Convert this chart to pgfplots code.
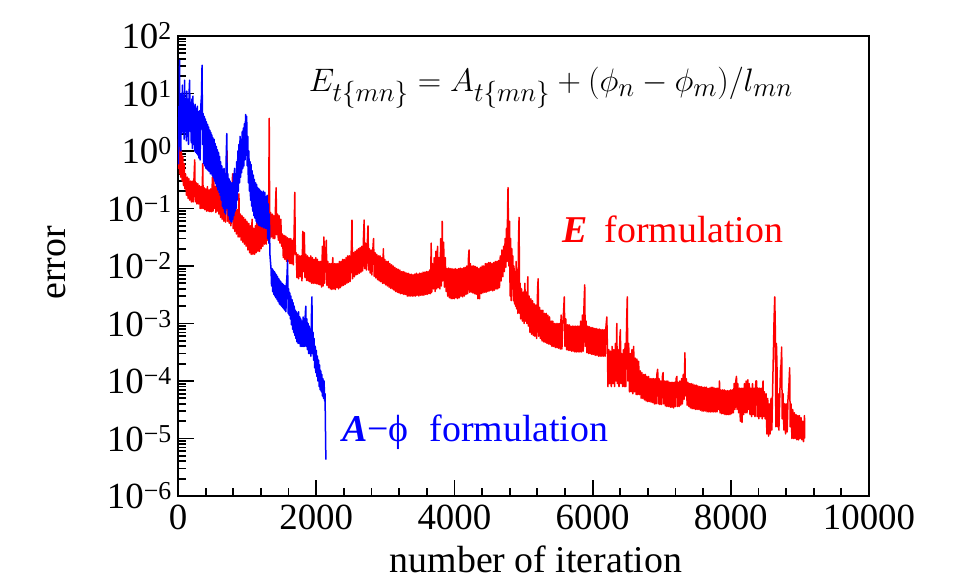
\documentclass[border=0pt]{standalone}
\usepackage{pgfplots}
\pgfplotsset{compat=1.18}
\usepackage{fontspec}
\setmainfont{Liberation Serif}
\begin{document}
\begin{tikzpicture}[x=1bp,y=1bp]
\path[use as bounding box] (-178,-90) rectangle (786,496);
\begin{axis}[at={(0,0)}, anchor=south west, scale only axis,
  width=691bp, height=460bp,
  ymode=log, xmin=0, xmax=10000, ymin=1e-6, ymax=1e2,
  axis line style={line width=2.4bp},
  tick align=inside, xtick pos=lower, ytick pos=left,
  tick style={line width=1.8bp, black},
  major tick length=16bp, minor tick length=8bp,
  xtick={0,2000,4000,6000,8000,10000},
  xticklabels={0,2000,4000,6000,8000,10000},
  minor x tick num=4, scaled x ticks=false,
  ytick={1e-6,1e-5,1e-4,1e-3,1e-2,1e-1,1,1e1,1e2},
  yticklabels={10\textsuperscript{−6},10\textsuperscript{−5},10\textsuperscript{−4},10\textsuperscript{−3},10\textsuperscript{−2},10\textsuperscript{−1},10\textsuperscript{0},10\textsuperscript{1},10\textsuperscript{2}},
  xticklabel style={font=\fontsize{37}{40}\selectfont, inner sep=0pt, yshift=-9bp},
  yticklabel style={font=\fontsize{37}{40}\selectfont, inner sep=0pt, xshift=-6bp},
  xlabel={number of iteration}, ylabel={error},
  xlabel style={font=\fontsize{38}{40}\selectfont, at={(axis description cs:0.518,0)}, anchor=base, yshift=-76bp},
  ylabel style={font=\fontsize{38}{40}\selectfont, at={(axis description cs:-0.1635,0.507)}, anchor=base},
  clip=true]
\addplot[red, line width=1.5bp, line join=round] coordinates {
(0,1.6) (8,0.5) (16,2.0) (24,0.4) (32,1.3) (40,0.35) (50,1.0) (60,0.3) (70,0.8) (80,0.25) (90,0.6) (100,0.22)
(110,0.4) (122,0.17) (134,0.35) (146,0.15) (158,0.33) (170,0.14) (182,0.3) (194,0.13) (206,0.3) (218,0.13) (230,0.3) (242,0.7) (250,0.13) (262,0.28) (274,0.12) (286,0.27) (298,0.12)
(310,0.25) (322,0.1) (334,0.24) (346,0.1) (358,0.6) (366,0.1) (378,0.23) (390,0.095) (402,0.22) (414,0.09) (426,0.24) (438,0.09) (450,0.21) (462,0.088) (474,0.22) (486,0.088) (498,0.35) (508,0.09) (516,1.0) (524,0.1) (536,0.24) (548,0.085) (560,0.8) (568,0.09) (580,0.2) (592,0.08)
(604,0.18) (616,0.07) (628,0.17) (640,0.065) (652,0.16) (664,0.06) (676,0.15) (688,0.058) (700,0.35) (710,1.0) (718,0.06) (730,0.15) (742,0.055) (754,0.14) (766,0.05) (778,0.13) (790,0.4) (798,0.045)
(810,0.11) (822,0.04) (834,0.1) (846,0.036) (858,0.095) (870,0.032) (882,0.18) (890,0.032) (902,0.08) (914,0.028) (926,0.075) (938,0.026) (950,0.07) (962,0.024) (974,0.065) (986,0.022) (998,0.06)
(1012,0.019) (1024,0.055) (1036,0.017) (1048,0.05) (1060,0.016) (1072,0.065) (1084,0.016) (1096,0.045) (1108,0.016) (1120,0.05) (1132,0.017) (1144,0.11) (1156,0.018) (1168,0.055) (1180,0.018) (1192,0.11) (1204,0.02) (1216,0.06) (1228,0.022) (1240,0.07) (1252,0.024) (1264,0.065) (1276,0.024) (1288,0.075) (1300,0.028) (1312,0.065) (1320,3.7) (1328,0.03)
(1340,0.085) (1352,0.032) (1364,0.08) (1376,0.03) (1388,0.075) (1400,0.03) (1412,0.12) (1420,0.23) (1428,0.035) (1440,0.08) (1452,0.028) (1464,0.075) (1476,0.025) (1488,0.065) (1500,0.022)
(1512,0.036) (1524,0.014) (1536,0.034) (1548,0.013) (1560,0.033) (1572,0.012) (1584,0.031) (1596,0.012) (1608,0.03) (1620,0.011) (1632,0.03) (1644,0.011) (1656,0.028) (1668,0.0105) (1680,0.035) (1690,0.19) (1698,0.016)
(1710,0.017) (1722,0.0063) (1734,0.016) (1746,0.006) (1758,0.015) (1770,0.0065) (1782,0.015) (1794,0.0055) (1806,0.04) (1816,0.008) (1828,0.038) (1838,0.0063) (1850,0.016) (1862,0.0056) (1874,0.015) (1886,0.0055) (1898,0.014) (1910,0.0053) (1922,0.015) (1934,0.005) (1946,0.014) (1958,0.005) (1970,0.013) (1982,0.005) (1994,0.014) (2006,0.0049) (2018,0.013) (2030,0.0048) (2042,0.012)
(2054,0.0047) (2066,0.012) (2078,0.0043) (2090,0.022) (2100,0.0045) (2112,0.032) (2122,0.005) (2134,0.013) (2146,0.028) (2156,0.0046) (2168,0.012) (2180,0.0042) (2192,0.011) (2204,0.004) (2216,0.011) (2228,0.0039) (2240,0.014) (2252,0.004) (2264,0.011) (2276,0.0039) (2288,0.011) (2300,0.0042) (2312,0.011) (2324,0.004) (2336,0.012) (2348,0.0042) (2360,0.012) (2372,0.0045) (2384,0.013) (2396,0.0046) (2408,0.013) (2420,0.0048) (2432,0.014) (2444,0.005) (2456,0.015) (2468,0.0052) (2480,0.015) (2492,0.0054) (2506,0.016) (2518,0.063) (2526,0.006)
(2540,0.017) (2552,0.0065) (2564,0.018) (2576,0.007) (2588,0.019) (2600,0.0072) (2612,0.02) (2624,0.0075) (2636,0.021) (2648,0.0078) (2660,0.022) (2672,0.0082) (2684,0.03) (2694,0.063) (2702,0.009) (2714,0.025) (2726,0.0085) (2738,0.022) (2750,0.05) (2758,0.0085) (2770,0.02) (2782,0.0075)
(2794,0.019) (2806,0.007) (2818,0.018) (2830,0.03) (2840,0.0066) (2852,0.017) (2864,0.0062) (2876,0.016) (2888,0.0058) (2900,0.015) (2912,0.0055) (2924,0.015) (2936,0.0053) (2948,0.014) (2960,0.005) (2972,0.02) (2982,0.005) (2994,0.013) (3006,0.0047) (3018,0.012) (3030,0.0045) (3042,0.012) (3054,0.0043) (3066,0.011) (3078,0.0041) (3090,0.0105) (3102,0.004) (3114,0.01) (3126,0.0038) (3138,0.0095) (3150,0.0036) (3162,0.009) (3174,0.0035) (3186,0.0088) (3198,0.0034) (3210,0.0085) (3222,0.0033) (3234,0.008) (3246,0.0033) (3258,0.008) (3270,0.0032) (3282,0.0078) (3294,0.0032) (3306,0.0075) (3318,0.003) (3330,0.0075) (3342,0.003) (3354,0.0072) (3366,0.003) (3378,0.0072) (3390,0.003)
(3402,0.007) (3414,0.003) (3426,0.0072) (3438,0.003) (3450,0.0075) (3462,0.0031) (3474,0.0072) (3486,0.003) (3498,0.0075) (3510,0.0031) (3522,0.0075) (3534,0.0031) (3546,0.0078) (3558,0.0031) (3570,0.0078) (3582,0.0032) (3594,0.008) (3606,0.0032) (3618,0.008) (3630,0.0033) (3642,0.0085) (3654,0.0033) (3664,0.025) (3672,0.0035) (3684,0.011) (3696,0.004)
(3708,0.014) (3720,0.0036) (3732,0.018) (3744,0.004) (3756,0.022) (3766,0.0042) (3778,0.014) (3790,0.004) (3802,0.03) (3812,0.0045) (3824,0.06) (3832,0.0055) (3844,0.026) (3856,0.0043) (3868,0.014) (3880,0.0036)
(3892,0.009) (3904,0.003) (3916,0.0092) (3928,0.0028) (3940,0.009) (3952,0.0027) (3964,0.009) (3976,0.0027) (3988,0.0088) (4000,0.0027) (4012,0.009) (4024,0.0028) (4036,0.0088) (4048,0.0027) (4060,0.009) (4072,0.0028) (4084,0.0092) (4096,0.003) (4108,0.009) (4120,0.0029) (4132,0.0093) (4144,0.003) (4156,0.0095) (4168,0.0032) (4180,0.01) (4192,0.0033) (4204,0.014) (4212,0.019) (4220,0.0035)
(4232,0.011) (4244,0.0035) (4256,0.01) (4268,0.0034) (4280,0.01) (4292,0.0033) (4304,0.0098) (4316,0.0032) (4328,0.0095) (4340,0.0027) (4352,0.009) (4364,0.0027) (4376,0.0095) (4388,0.0033) (4400,0.01) (4412,0.0034) (4424,0.01) (4436,0.0035) (4448,0.011) (4460,0.0035) (4472,0.011) (4484,0.0036) (4496,0.0115) (4508,0.0037) (4520,0.0115) (4532,0.0038) (4544,0.011) (4556,0.0037) (4568,0.0115) (4580,0.0038) (4592,0.012) (4604,0.004) (4616,0.012) (4628,0.004) (4640,0.0125) (4652,0.0042)
(4664,0.015) (4676,0.0055) (4688,0.019) (4700,0.0065) (4712,0.022) (4722,0.008) (4734,0.03) (4744,0.0095) (4754,0.045) (4762,0.012) (4770,0.1) (4776,0.23) (4782,0.05) (4790,0.01) (4798,0.06)
(4806,0.003) (4814,0.03) (4822,0.0025) (4830,0.02) (4838,0.004) (4846,0.015) (4854,0.0025) (4862,0.01) (4870,0.0022) (4878,0.008) (4886,0.002) (4894,0.012) (4902,0.0018) (4910,0.006) (4918,0.0015) (4928,0.03) (4936,0.07) (4944,0.0015) (4952,0.005) (4960,0.0012) (4972,0.004) (4984,0.0011) (4996,0.0035) (5008,0.001) (5020,0.005) (5030,0.0011) (5040,0.0035) (5050,0.001)
(5062,0.0065) (5070,0.0009) (5082,0.003) (5094,0.0007) (5106,0.0027) (5118,0.00065) (5130,0.0025) (5142,0.00062) (5154,0.0022) (5166,0.0006) (5178,0.0021) (5190,0.00055) (5204,0.004) (5212,0.006) (5220,0.0006) (5232,0.0019) (5244,0.00055) (5256,0.0017) (5268,0.0005) (5280,0.0017) (5292,0.00048) (5304,0.0015) (5316,0.00047) (5328,0.0015) (5340,0.00045) (5352,0.0014) (5364,0.00044) (5376,0.0013)
(5388,0.00043) (5400,0.0011) (5412,0.0004) (5424,0.0011) (5436,0.0004) (5448,0.001) (5460,0.00038) (5472,0.001) (5484,0.00038) (5496,0.001) (5508,0.00037) (5520,0.001) (5532,0.00036) (5544,0.0014) (5556,0.00036) (5568,0.001) (5580,0.0016) (5590,0.0029) (5600,0.0004) (5612,0.0012) (5624,0.00035) (5636,0.00095) (5648,0.00034) (5660,0.00095) (5672,0.00034) (5684,0.0009) (5696,0.00033) (5708,0.0009) (5720,0.00033) (5732,0.0009) (5744,0.00032) (5756,0.0009) (5768,0.00032) (5780,0.0009) (5792,0.00032) (5804,0.0009) (5816,0.00032) (5828,0.0011) (5840,0.00032) (5852,0.0014) (5864,0.00033) (5876,0.0022) (5886,0.0047) (5894,0.0004) (5906,0.0011) (5918,0.00031) (5930,0.0009) (5942,0.0003) (5954,0.00088) (5966,0.0003) (5978,0.00085) (5990,0.00029) (6002,0.00085) (6014,0.00029) (6026,0.00082) (6038,0.00028) (6050,0.00082) (6062,0.00028) (6074,0.0008) (6086,0.00027) (6098,0.0008) (6110,0.00027) (6122,0.00078) (6134,0.00027) (6146,0.00078) (6158,0.00027) (6170,0.00078) (6182,0.00027) (6194,0.0009) (6206,0.0013) (6214,0.0004)
(6222,0.00008) (6234,0.00035) (6246,0.00009) (6258,0.00033) (6270,0.00008) (6282,0.0004) (6294,0.00009) (6306,0.00035) (6318,0.00008) (6330,0.00045) (6340,0.0001) (6350,0.001) (6358,0.00009) (6370,0.00035) (6382,0.00008) (6394,0.00055) (6402,0.00078) (6410,0.00009) (6422,0.0003) (6434,0.00008) (6446,0.00035) (6458,0.00008) (6470,0.00045) (6480,0.00008) (6492,0.001) (6502,0.0029) (6510,0.0001) (6522,0.00045)
(6534,0.000065) (6546,0.0003) (6558,0.000065) (6570,0.00035) (6582,0.00006) (6594,0.0004) (6606,0.000065) (6618,0.00025) (6630,0.000058) (6642,0.00024) (6654,0.000058) (6666,0.00022) (6678,0.000058)
(6690,0.00015) (6702,0.00005) (6714,0.00014) (6726,0.00005) (6738,0.00013) (6750,0.000047) (6762,0.00013) (6774,0.000045) (6786,0.00012) (6798,0.000044) (6810,0.00012) (6822,0.000044) (6834,0.00011) (6846,0.000043) (6858,0.00011) (6870,0.000042) (6882,0.00011) (6894,0.00004) (6906,0.00011) (6918,0.00004) (6930,0.00013) (6942,0.00016) (6950,0.00004) (6962,0.00011) (6974,0.000039) (6986,0.0001) (6998,0.000039) (7010,0.00012) (7020,0.00014) (7028,0.00004) (7040,0.0001) (7052,0.000037) (7064,0.0001) (7076,0.000036) (7088,0.0001) (7100,0.000036) (7112,0.000095) (7124,0.000035) (7136,0.000095) (7148,0.000035) (7160,0.000095) (7172,0.000034) (7184,0.000095) (7196,0.000036) (7208,0.00011) (7220,0.00012) (7228,0.000036) (7240,0.000095) (7252,0.000036) (7264,0.0001) (7276,0.000038) (7288,0.00011) (7300,0.00004) (7312,0.00013) (7324,0.000048) (7336,0.00031) (7344,0.000055) (7356,0.00011) (7368,0.000038) (7380,0.000095) (7392,0.000036) (7404,0.00009) (7416,0.000034) (7428,0.00009) (7440,0.000033) (7452,0.000088) (7464,0.000033) (7476,0.000085) (7488,0.000032) (7500,0.000085) (7512,0.000032) (7524,0.000082) (7536,0.000032) (7548,0.00008) (7560,0.000031) (7572,0.00008) (7584,0.00003) (7596,0.000078) (7608,0.00003) (7620,0.000078) (7632,0.00003) (7644,0.000078) (7656,0.000029) (7668,0.000075) (7680,0.000029) (7692,0.000075) (7704,0.000029) (7716,0.000078) (7728,0.000029) (7740,0.000078) (7752,0.000029) (7764,0.000075) (7776,0.000029) (7788,0.000075) (7800,0.000029)
(7812,0.000075) (7824,0.000032) (7836,0.0001) (7844,0.000028) (7856,0.00007) (7868,0.000027) (7880,0.00007) (7892,0.000027) (7904,0.00007) (7916,0.000026) (7928,0.000068) (7940,0.000026) (7952,0.000068) (7964,0.000026) (7976,0.000068) (7988,0.000026) (8000,0.00007) (8012,0.000027) (8024,0.00007) (8036,0.000028) (8048,0.00009) (8060,0.000032) (8072,0.0001) (8082,0.00012) (8090,0.000032) (8102,0.00009) (8114,0.000028) (8126,0.000075) (8138,0.00002) (8150,0.000075) (8162,0.000019) (8174,0.000075) (8186,0.000026) (8198,0.00009) (8210,0.000028) (8222,0.0001) (8234,0.000028) (8246,0.000105) (8254,0.000032) (8266,0.00009) (8278,0.000026) (8290,0.000075) (8302,0.000024) (8314,0.00009) (8326,0.000026) (8338,0.000075) (8350,0.000024) (8362,0.0001) (8374,0.0001) (8382,0.000024) (8394,0.000075) (8406,0.000022) (8418,0.000075) (8430,0.000024) (8442,0.000075) (8454,0.000022) (8466,0.0001) (8474,0.000024) (8486,0.000065) (8498,0.000022) (8510,0.00006)
(8522,0.000012) (8534,0.00005) (8546,0.000011) (8558,0.00004) (8570,0.000012) (8582,0.00005) (8594,0.000014) (8606,0.00008) (8616,0.0003) (8626,0.0012) (8636,0.0029) (8644,0.0008) (8652,0.000016) (8660,0.00045) (8668,0.0002) (8676,0.000016) (8684,0.00006) (8696,0.000014) (8708,0.00005) (8718,0.00015) (8728,0.0002) (8736,0.00039) (8744,0.000022) (8756,0.00006) (8768,0.000014) (8780,0.00004) (8792,0.000012) (8804,0.00004) (8816,0.000013) (8828,0.00005) (8840,0.00008) (8852,0.00017) (8860,0.000016) (8872,0.00004) (8884,0.00001) (8896,0.000032) (8908,0.00001) (8920,0.000028) (8932,0.00001) (8944,0.000026) (8956,0.0000095) (8968,0.000025) (8980,0.0000095) (8992,0.000025) (9004,0.00001) (9016,0.000023) (9028,0.0000095) (9040,0.00002) (9052,0.0000088) (9062,0.000018) (9066,0.000025) (9070,0.00001)
};
\addplot[blue, line width=1.5bp, line join=round] coordinates {
(0,2.5) (6,0.6) (12,6) (18,1.2) (22,38) (28,1.5) (34,8) (40,1.0) (48,10) (56,2) (64,14) (72,2.2) (80,9) (88,1.6) (96,17) (104,2.2) (112,8) (120,1.5) (128,11) (136,1.8) (144,8) (152,1.3) (160,10) (168,17) (176,2.2) (184,7) (192,1.4) (200,8) (208,1.1) (216,9) (224,1.3) (232,6) (240,1.0) (248,6.5) (256,0.95) (264,5.5) (272,0.9) (280,6) (288,0.85) (296,4.8) (304,0.75) (312,5) (320,0.7) (330,6) (340,9) (348,31) (356,1.3) (364,4.5) (372,0.6) (380,4) (388,0.55) (396,3.6) (404,0.5) (412,3.2) (420,0.48) (428,2.9) (436,0.46) (444,2.6) (452,0.44) (460,2.3) (468,0.4) (476,2.1) (484,0.4) (490,1.9) (498,0.37) (506,1.7) (514,0.34) (522,1.6) (530,0.3) (538,1.35) (546,0.27) (554,1.2) (562,0.24) (570,1.05) (578,0.21) (586,0.95) (594,0.19) (602,0.8) (610,0.17) (618,0.65) (626,0.14) (634,0.55) (642,0.11) (650,0.48) (658,0.1) (666,0.5) (674,0.085) (682,0.4) (690,0.08) (698,0.8) (706,2.0) (714,0.1) (722,0.4) (730,0.075) (738,0.33) (746,0.065) (754,0.3) (762,0.06) (770,0.28) (778,0.058) (786,0.28) (794,0.065) (802,0.4) (810,0.075) (818,0.5) (826,0.09) (834,0.4) (842,0.1) (850,0.65) (858,0.14) (866,1.0) (874,0.2) (882,1.3) (890,0.28) (898,1.8) (906,0.35) (914,1.6) (922,0.42) (930,2.2) (938,0.5) (946,2.5) (954,0.55) (962,3.0) (970,0.7) (978,4.3) (986,0.85) (994,4.0) (1002,0.55) (1010,1.8) (1018,0.28) (1026,1.0) (1034,0.2) (1042,0.65) (1050,0.14) (1058,0.58) (1066,0.11) (1074,0.45) (1082,0.09) (1090,0.38) (1098,0.075) (1106,0.32) (1114,0.068) (1122,0.28) (1130,0.06) (1138,0.26) (1146,0.056) (1154,0.23) (1162,0.052) (1170,0.22) (1178,0.05) (1186,0.21) (1194,0.05) (1202,0.2) (1210,0.048) (1218,0.19) (1226,0.048) (1234,0.2) (1242,0.046) (1250,0.17) (1258,0.19) (1266,0.045) (1274,0.16) (1282,0.045) (1290,0.17) (1298,0.03) (1306,0.12) (1314,0.025) (1322,0.08) (1330,0.016) (1338,0.012) (1346,0.009)
(1354,0.0045) (1362,0.009) (1370,0.0036) (1378,0.0085) (1386,0.0032) (1394,0.008) (1402,0.003) (1410,0.0075) (1418,0.0028) (1426,0.007) (1434,0.0026) (1442,0.0065) (1450,0.0024) (1458,0.006) (1466,0.0022) (1474,0.0056) (1482,0.0021) (1490,0.0053) (1498,0.002) (1506,0.005) (1514,0.0019) (1522,0.0048) (1530,0.0018) (1538,0.0046) (1546,0.0017) (1554,0.0045) (1562,0.0016) (1570,0.005) (1578,0.007) (1586,0.0126) (1594,0.0015) (1602,0.004) (1610,0.0014) (1618,0.0034) (1626,0.0012) (1634,0.003) (1642,0.00095) (1650,0.0026) (1658,0.0008) (1666,0.0023) (1674,0.0007) (1682,0.002) (1690,0.00062) (1698,0.0017) (1706,0.00055) (1714,0.0016) (1722,0.00048) (1730,0.0015) (1738,0.00045) (1746,0.0016) (1754,0.00045) (1762,0.0013) (1770,0.0004) (1778,0.0012) (1786,0.0004) (1794,0.0011) (1802,0.0004) (1810,0.0013) (1818,0.0004) (1826,0.0012) (1834,0.0004) (1842,0.0015) (1850,0.002) (1858,0.0004) (1866,0.0012) (1874,0.00035) (1882,0.001) (1890,0.0003) (1898,0.0009) (1906,0.0003) (1914,0.0008) (1922,0.00027) (1930,0.0012) (1938,0.0029) (1946,0.0003) (1954,0.0007) (1962,0.00023) (1970,0.00055) (1978,0.00017) (1986,0.0004) (1994,0.00014) (2002,0.00034) (2010,0.00012) (2018,0.00027) (2026,0.0001) (2034,0.00023) (2042,0.00008) (2050,0.00019) (2058,0.00007) (2066,0.00015) (2074,0.000065) (2082,0.00013) (2090,0.000055) (2098,0.00011) (2106,0.00005) (2114,0.0001) (2122,0.000045) (2128,0.00006) (2134,0.000015) (2140,0.0000043)
};
\end{axis}
\node[anchor=base east, inner sep=0pt] at (615,404) {\scalebox{1.31}{\fontsize{24.88}{28}\selectfont$E_{t\{mn\}} = A_{t\{mn\}} + (\phi_n - \phi_m)/l_{mn}$}};
\node[anchor=base west, inner sep=0pt, text=red, font=\fontsize{38}{40}\selectfont] at (384,253) {\textbf{\textit{E}}\hspace{0.45em}formulation};
\node[anchor=base west, inner sep=0pt, text=blue, font=\fontsize{38}{40}\selectfont] at (164,54) {\textbf{\textit{A}}−ϕ\hspace{0.55em}formulation};
\end{tikzpicture}
\end{document}
